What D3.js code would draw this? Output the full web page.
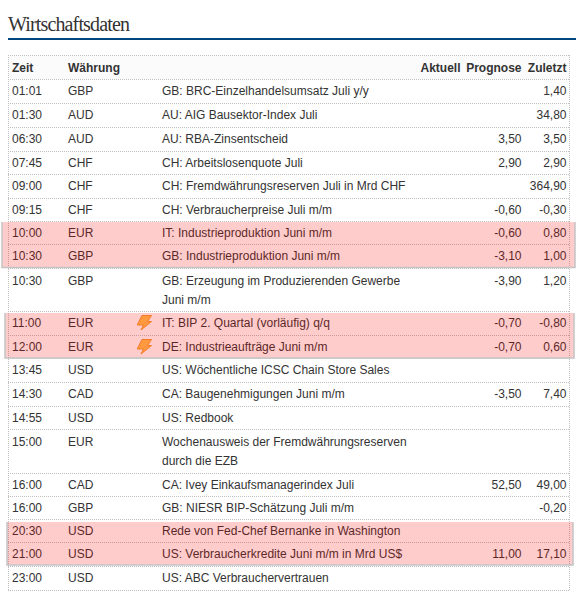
<!DOCTYPE html>
<html><head><meta charset="utf-8">
<script src="https://d3js.org/d3.v7.min.js"></script>
<style>html,body{margin:0;padding:0;background:#fff;overflow:hidden}svg{display:block}
text{font-family:"Liberation Sans",Arial,sans-serif;font-size:12px;fill:#333}
.h{font-weight:bold}</style></head><body><div id="c"></div>
<script>
const title = "Wirtschaftsdaten";
const headers = ["Zeit","Währung","Aktuell","Prognose","Zuletzt"];
const times = ["01:01","01:30","06:30","07:45","09:00","09:15","10:00","10:30","10:30","11:00","12:00","13:45","14:30","14:55","15:00","16:00","16:00","20:30","21:00","23:00"];
const currencies = ["GBP","AUD","AUD","CHF","CHF","CHF","EUR","GBP","GBP","EUR","EUR","USD","CAD","USD","EUR","CAD","GBP","USD","USD","USD"];
const events = [["GB: BRC-Einzelhandelsumsatz Juli y/y"],["AU: AIG Bausektor-Index Juli"],["AU: RBA-Zinsentscheid"],["CH: Arbeitslosenquote Juli"],["CH: Fremdwährungsreserven Juli in Mrd CHF"],["CH: Verbraucherpreise Juli m/m"],["IT: Industrieproduktion Juni m/m"],["GB: Industrieproduktion Juni m/m"],["GB: Erzeugung im Produzierenden Gewerbe","Juni m/m"],["IT: BIP 2. Quartal (vorläufig) q/q"],["DE: Industrieaufträge Juni m/m"],["US: Wöchentliche ICSC Chain Store Sales"],["CA: Baugenehmigungen Juni m/m"],["US: Redbook"],["Wochenausweis der Fremdwährungsreserven","durch die EZB"],["CA: Ivey Einkaufsmanagerindex Juli"],["GB: NIESR BIP-Schätzung Juli m/m"],["Rede von Fed-Chef Bernanke in Washington"],["US: Verbraucherkredite Juni m/m in Mrd US$"],["US: ABC Verbrauchervertrauen"]];
const prognose = ["","","3,50","2,90","","-0,60","-0,60","-3,10","-3,90","-0,70","-0,70","","-3,50","","","52,50","","","11,00",""];
const zuletzt = ["1,40","34,80","3,50","2,90","364,90","-0,30","0,80","1,00","1,20","-0,80","0,60","","7,40","","","49,00","-0,20","","17,10",""];
const flashRows = [9,10];
const highlightGroups = [[6,7],[9,10],[17,18]];

const W=579,H=598;
const svg=d3.select("#c").append("svg").attr("width",W).attr("height",H);
// page layout of the table
const tops=[79,103,127,151,174,198,221,244,268,311,335,358,382,406,429,473,496,519,542,566,590];
const bandBox=[{x0:2,x1:575,y0:222,y1:267.5},{x0:5,x1:574,y0:313,y1:358},{x0:7,x1:573,y0:522,y1:565}];
const Y=i=>tops[i];
const X={zeit:12,cur:68,icon:136.5,ev:162,prog:521.5,last:566.5,akt:460.5};

svg.append("text").attr("x",8).attr("y",31).text(title)
  .style("font-family",'"Liberation Serif",Georgia,serif').style("font-size","20px").style("fill","#333").style("letter-spacing","-0.85px");
svg.append("rect").attr("x",8).attr("y",38).attr("width",568).attr("height",2).attr("fill","#00467f");

svg.append("rect").attr("x",9).attr("y",56).attr("width",561).attr("height",23).attr("fill","#fbfbfb");

// dotted rules
svg.selectAll("line.r").data([55].concat(tops)).join("line").attr("class","r")
  .attr("x1",8).attr("x2",570).attr("y1",d=>d+.5).attr("y2",d=>d+.5)
  .attr("stroke","#c0c0c0").attr("stroke-dasharray","1 1");
svg.selectAll("line.v").data([8.5,569.5]).join("line").attr("class","v")
  .attr("x1",d=>d).attr("x2",d=>d).attr("y1",55).attr("y2",591)
  .attr("stroke","#c0c0c0").attr("stroke-dasharray","1 1");

// header
const hx=[[X.zeit,"start"],[X.cur,"start"],[X.akt,"end"],[X.prog,"end"],[X.last,"end"]];
svg.selectAll("text.h").data(headers).join("text").attr("class","h")
  .attr("x",(d,i)=>hx[i][0]).attr("text-anchor",(d,i)=>hx[i][1]).attr("y",72).text(d=>d);

// rows
const g=svg.selectAll("g.row").data(times).join("g").attr("class","row");
const base=i=>Y(i)+(events[i].length>1?17:16);
g.append("text").attr("x",X.zeit).attr("y",(d,i)=>base(i)).text(d=>d);
g.append("text").attr("x",X.cur).attr("y",(d,i)=>base(i)).text((d,i)=>currencies[i]);
g.each(function(d,i){
  d3.select(this).selectAll("text.ev").data(events[i]).join("text").attr("class","ev")
    .attr("x",X.ev).attr("y",(e,j)=>base(i)+j*19).text(e=>e);
});
g.append("text").attr("x",X.prog).attr("text-anchor","end").attr("y",(d,i)=>base(i)).text((d,i)=>prognose[i]);
g.append("text").attr("x",X.last).attr("text-anchor","end").attr("y",(d,i)=>base(i)).text((d,i)=>zuletzt[i]);

// flash icons
svg.selectAll("path.f").data(flashRows).join("path").attr("class","f")
  .attr("transform",i=>`translate(${X.icon},${Y(i)+4})`)
  .attr("d","M5.5 0.5H15L11 6.5H15L4.5 15L7 10H0.7Z")
  .attr("fill","#ffc050").attr("stroke","#f29a2e").attr("stroke-width",1);

// translucent highlight overlays lie over the rows
svg.selectAll("rect.hl").data(highlightGroups).join("rect").attr("class","hl")
  .attr("x",(d,i)=>bandBox[i].x0).attr("width",(d,i)=>bandBox[i].x1-bandBox[i].x0)
  .attr("y",(d,i)=>bandBox[i].y0).attr("height",(d,i)=>bandBox[i].y1-bandBox[i].y0)
  .attr("fill","rgba(255,0,0,0.2)");
svg.selectAll("path.hb").data(bandBox).join("path").attr("class","hb")
  .attr("d",b=>`M${b.x0},${b.y0}V${b.y1}H${b.x1}V${b.y0}`)
  .attr("fill","none").attr("stroke","#c4c4c4").attr("stroke-width",1.5);
</script></body></html>
